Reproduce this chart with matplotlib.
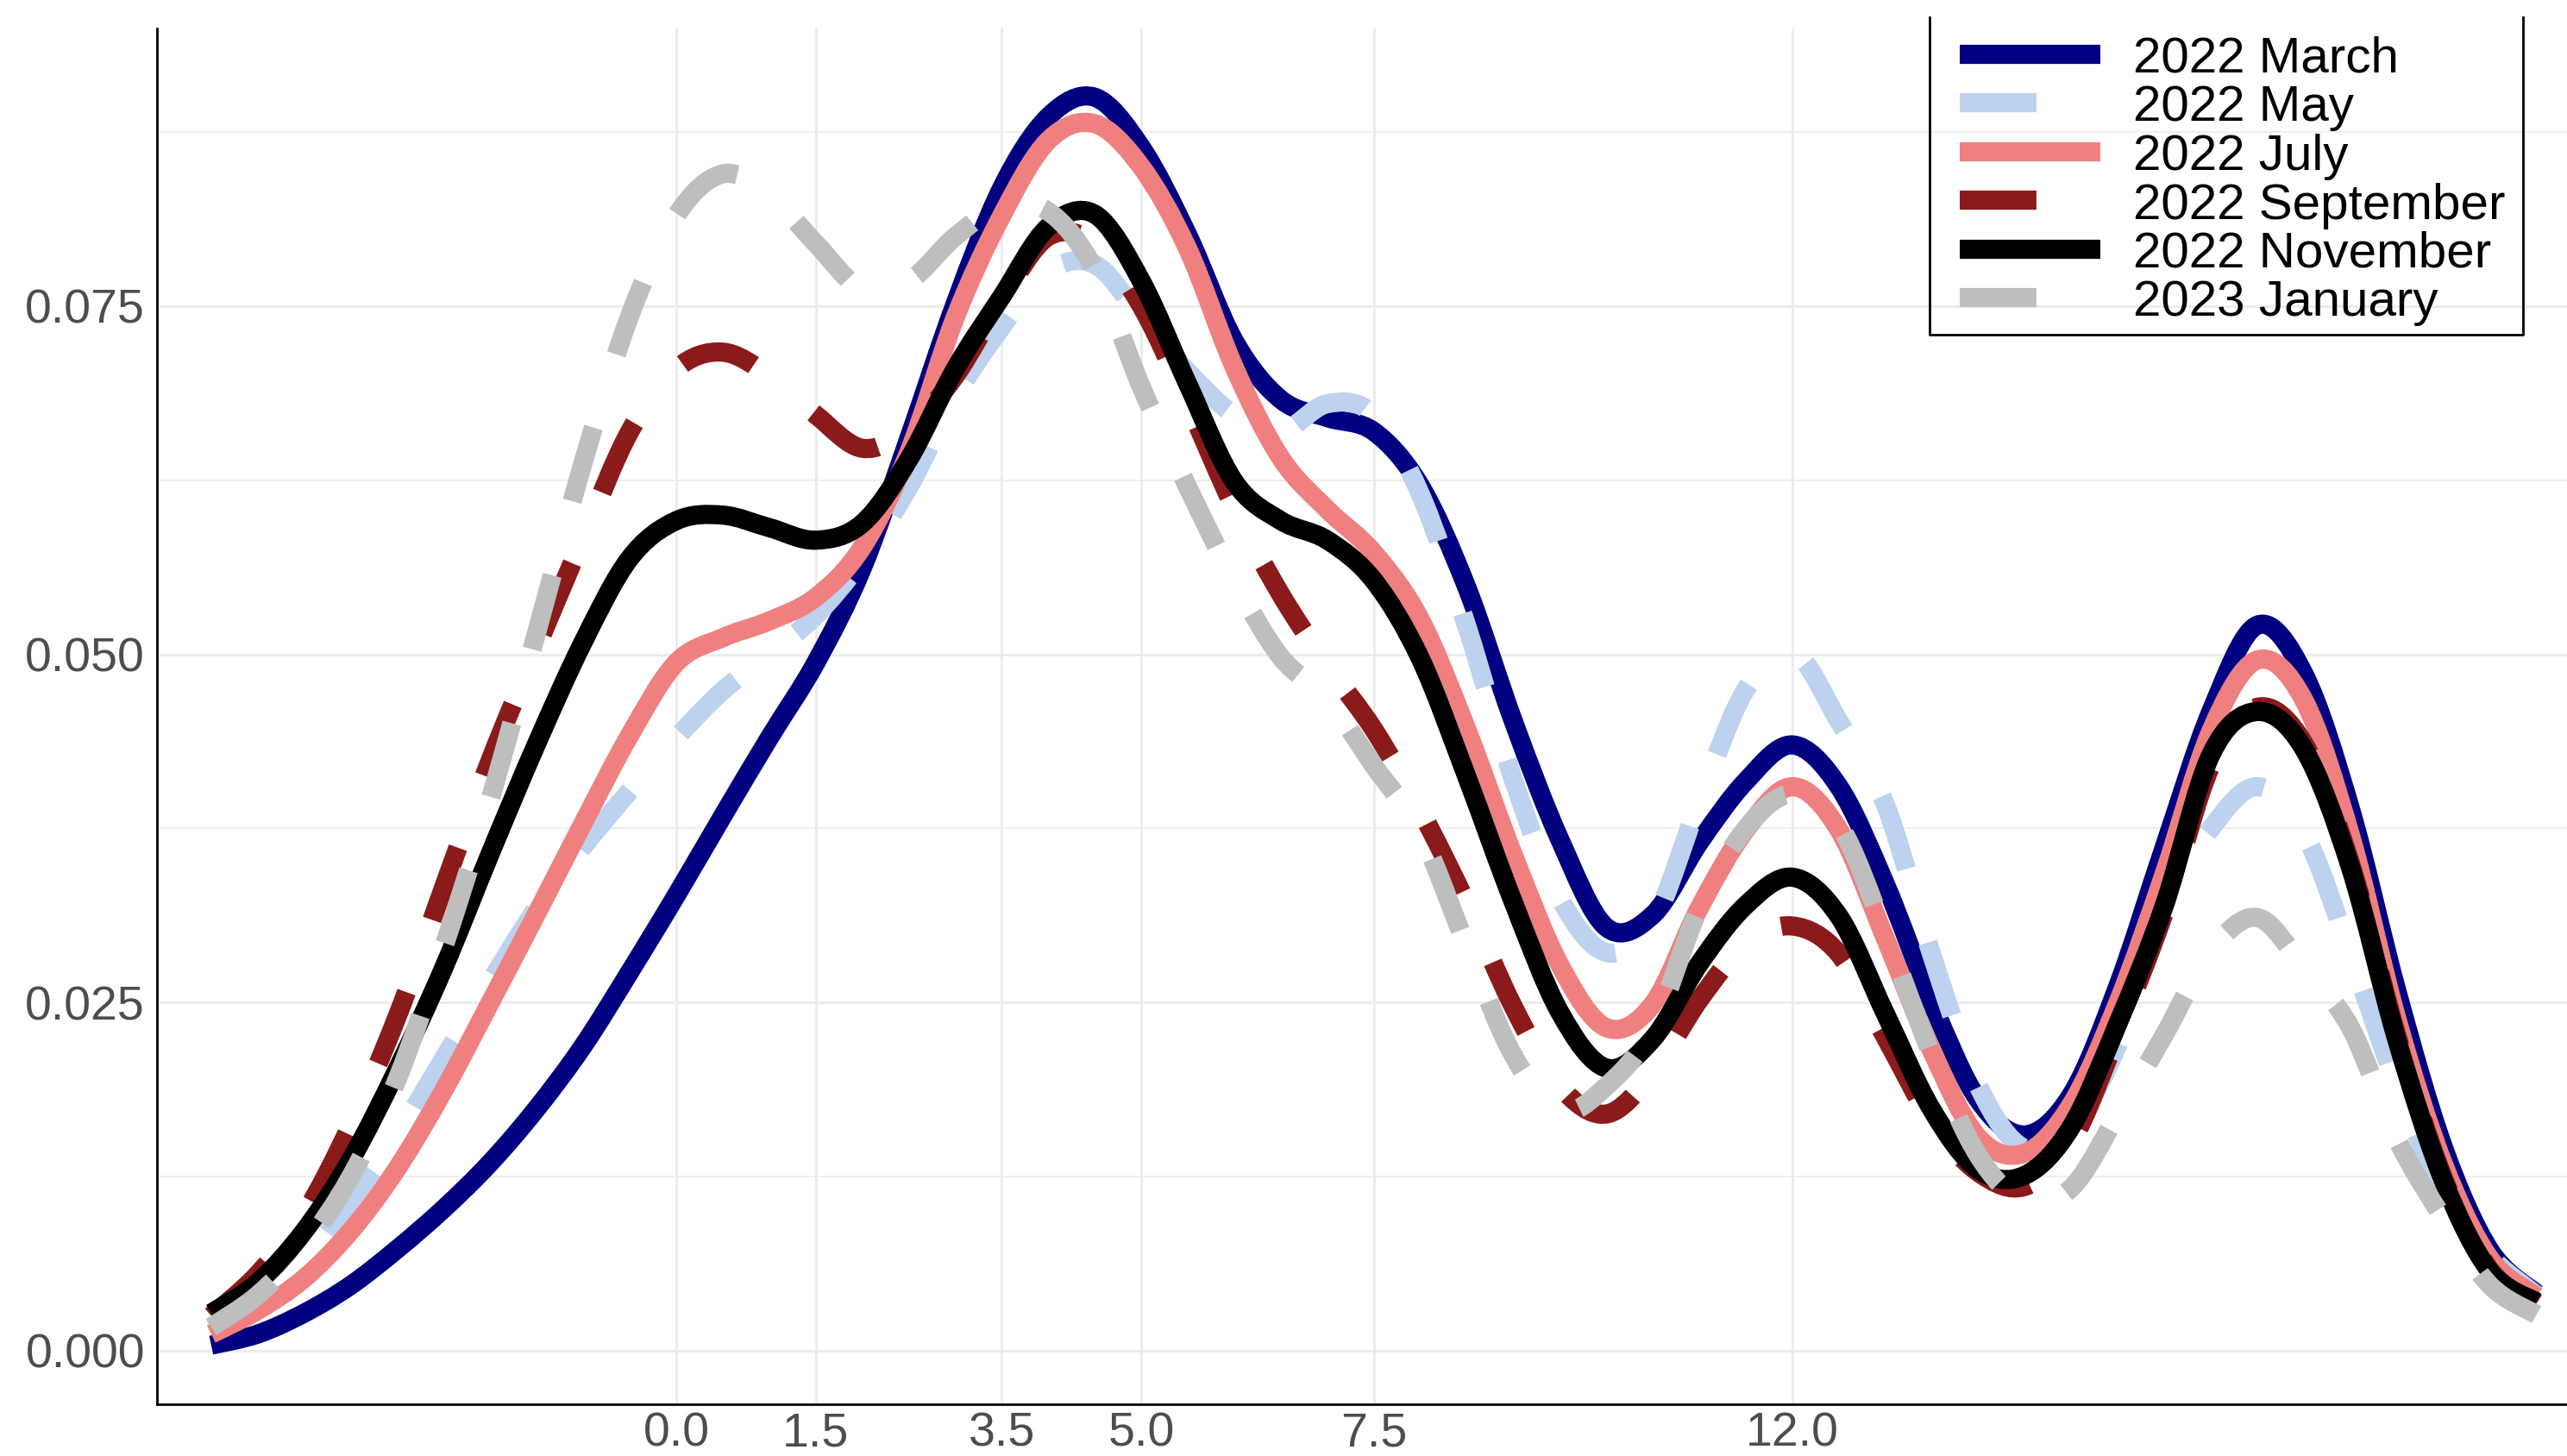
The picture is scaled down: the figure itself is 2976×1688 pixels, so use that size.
import numpy as np
import matplotlib
matplotlib.use("Agg")
import matplotlib.pyplot as plt
from matplotlib.lines import Line2D
from matplotlib.path import Path
from matplotlib.patches import PathPatch

plt.rcParams['font.family'] = ['Liberation Sans', 'DejaVu Sans']

x_vals = np.arange(-5, 20.5, 0.5)

march = [0.0004, 0.0012, 0.0027, 0.0047, 0.0073, 0.0102, 0.0135, 0.0174, 0.0219, 0.0272,
         0.0327, 0.0384, 0.0440, 0.0494, 0.0562, 0.0655, 0.0752, 0.0835, 0.0886, 0.0900,
         0.0864, 0.0801, 0.0725, 0.0683, 0.0670, 0.0660, 0.0621, 0.0548, 0.0452, 0.0367,
         0.0304, 0.0313, 0.0365, 0.0409, 0.0435, 0.0405, 0.0335, 0.0250, 0.0180, 0.0155,
         0.0184, 0.0262, 0.0362, 0.0459, 0.0521, 0.0486, 0.0389, 0.0258, 0.0146, 0.0072,
         0.0041]
may = [0.0015, 0.0033, 0.0065, 0.0108, 0.0155, 0.0210, 0.0265, 0.0318, 0.0362, 0.0402,
       0.0440, 0.0474, 0.0500, 0.0528, 0.0568, 0.0620, 0.0685, 0.0735, 0.0775, 0.0780,
       0.0742, 0.0703, 0.0672, 0.0660, 0.0680, 0.0672, 0.0615, 0.0520, 0.0410, 0.0325,
       0.0286, 0.0308, 0.0395, 0.0475, 0.0502, 0.0452, 0.0392, 0.0284, 0.0190, 0.0145,
       0.0160, 0.0220, 0.0320, 0.0375, 0.0405, 0.0372, 0.0285, 0.0190, 0.0115, 0.0068,
       0.0040]
july = [0.0012, 0.0029, 0.0052, 0.0086, 0.0131, 0.0187, 0.0250, 0.0314, 0.0379, 0.0442,
        0.0494, 0.0512, 0.0524, 0.0541, 0.0577, 0.0645, 0.0742, 0.0815, 0.0869, 0.0881,
        0.0850, 0.0791, 0.0706, 0.0641, 0.0604, 0.0573, 0.0525, 0.0446, 0.0356, 0.0277,
        0.0232, 0.0249, 0.0318, 0.0374, 0.0405, 0.0374, 0.0296, 0.0215, 0.0153, 0.0142,
        0.0177, 0.0250, 0.0343, 0.0445, 0.0496, 0.0467, 0.0370, 0.0238, 0.0134, 0.0066,
        0.0039]
september = [0.0025, 0.0055, 0.0098, 0.0162, 0.0240, 0.0333, 0.0424, 0.0505, 0.0584, 0.0660,
             0.0705, 0.0717, 0.0700, 0.0672, 0.0648, 0.0662, 0.0700, 0.0755, 0.0800, 0.0795,
             0.0750, 0.0680, 0.0605, 0.0543, 0.0492, 0.0446, 0.0388, 0.0321, 0.0247, 0.0190,
             0.0170, 0.0200, 0.0252, 0.0292, 0.0305, 0.0285, 0.0225, 0.0165, 0.0128, 0.0118,
             0.0150, 0.0228, 0.0315, 0.0420, 0.0462, 0.0436, 0.0350, 0.0226, 0.0124, 0.0058,
             0.0034]
november = [0.0027, 0.0049, 0.0086, 0.0137, 0.0202, 0.0275, 0.0357, 0.0436, 0.0509, 0.0569,
            0.0596, 0.0600, 0.0591, 0.0582, 0.0594, 0.0640, 0.0705, 0.0757, 0.0807, 0.0816,
            0.0768, 0.0694, 0.0624, 0.0596, 0.0582, 0.0553, 0.0497, 0.0412, 0.0322, 0.0243,
            0.0203, 0.0224, 0.0278, 0.0320, 0.0340, 0.0312, 0.0242, 0.0173, 0.0130, 0.0126,
            0.0161, 0.0235, 0.0320, 0.0428, 0.0459, 0.0432, 0.0347, 0.0223, 0.0122, 0.0057,
            0.0035]
january = [0.0017, 0.0040, 0.0075, 0.0125, 0.0195, 0.0290, 0.0396, 0.0516, 0.0638, 0.0743,
           0.0815, 0.0845, 0.0830, 0.0795, 0.0762, 0.0768, 0.0800, 0.0822, 0.0818, 0.0776,
           0.0692, 0.0620, 0.0553, 0.0498, 0.0468, 0.0420, 0.0372, 0.0290, 0.0212, 0.0172,
           0.0190, 0.0232, 0.0318, 0.0375, 0.0400, 0.0378, 0.0300, 0.0212, 0.0140, 0.0107,
           0.0117, 0.0170, 0.0227, 0.0287, 0.0311, 0.0275, 0.0232, 0.0152, 0.0095, 0.0047,
           0.0026]

labels = ['2022 March', '2022 May', '2022 July', '2022 September', '2022 November', '2023 January']
colors = ['#000080', '#BCD2EE', '#F08080', '#8B1A1A', '#000000', '#BEBEBE']
dashed = [False, True, False, True, False, True]
series = [march, may, july, september, november, january]

x_ticks = [0.0, 1.5, 3.5, 5.0, 7.5, 12.0]
x_ticklabels = ['0.0', '1.5', '3.5', '5.0', '7.5', '12.0']
y_ticks = [0.0, 0.025, 0.05, 0.075]
y_ticklabels = ['0.000', '0.025', '0.050', '0.075']
y_minor = [0.0125, 0.0375, 0.0625, 0.0875]


def smooth_path(xs, ys):
    # cubic bezier segments through the read points (catmull-rom tangents)
    pts = np.column_stack([xs, ys])
    ext = np.vstack([pts[0], pts, pts[-1]])
    verts = [pts[0]]
    codes = [Path.MOVETO]
    for i in range(len(pts) - 1):
        p0, p1, p2, p3 = ext[i], ext[i + 1], ext[i + 2], ext[i + 3]
        verts += [p1 + (p2 - p0) / 6, p2 - (p3 - p1) / 6, p2]
        codes += [Path.CURVE4] * 3
    return Path(verts, codes)


W, H = 2976, 1688
fig = plt.figure(figsize=(W / 200, H / 200), dpi=200)
ax = fig.add_axes([182 / W, 1 - 1628 / H, 1 - 182 / W, (1628 - 33) / H])

lw = 8
for ys, c, d, lab in zip(series, colors, dashed, labels):
    ls = (0, (4, 4)) if d else '-'
    ax.add_patch(PathPatch(smooth_path(x_vals, ys), fill=False, edgecolor=c, lw=lw,
                           linestyle=ls, capstyle='butt', joinstyle='round', label=lab))

ax.set_xlim(-5.583, 20.328)
ax.set_ylim(-0.00384, 0.09494)
ax.set_xticks(x_ticks)
ax.set_xticklabels(x_ticklabels)
ax.set_yticks(y_ticks)
ax.set_yticklabels(y_ticklabels)
ax.set_yticks(y_minor, minor=True)
ax.tick_params(axis='both', which='both', length=0, labelsize=20, labelcolor='#4D4D4D')
ax.tick_params(axis='x', pad=3)
ax.tick_params(axis='y', pad=5)
ax.grid(True, which='major', color='#EBEBEB', lw=1.0, zorder=0)
ax.grid(True, which='minor', axis='y', color='#EBEBEB', lw=0.6, zorder=0)
ax.set_axisbelow(True)
for s in ['top', 'right']:
    ax.spines[s].set_visible(False)
for s in ['left', 'bottom']:
    ax.spines[s].set_linewidth(1.0)
    ax.spines[s].set_color('black')

# legend drawn by hand (tight rows, box open at the top like the original)
lx0, lx1, ly0, ly1 = 2237, 2925, 20, 388
fig.add_artist(Line2D([lx0 / W, lx0 / W, lx1 / W, lx1 / W],
                      [1 - ly0 / H, 1 - ly1 / H, 1 - ly1 / H, 1 - ly0 / H],
                      transform=fig.transFigure, color='black', lw=1.0))
row0, pitch = 62.5, 56.5
for i, (c, d, lab) in enumerate(zip(colors, dashed, labels)):
    yc = row0 + i * pitch
    ls = (0, (4, 4)) if d else '-'
    fig.add_artist(Line2D([2272 / W, 2435 / W], [1 - yc / H, 1 - yc / H],
                          transform=fig.transFigure, color=c, lw=lw, linestyle=ls,
                          solid_capstyle='butt'))
    fig.text(2473 / W, 1 - (yc + 21.5) / H, lab, fontsize=21, color='black',
             va='baseline', ha='left')

fig.savefig('out.png', dpi=200, facecolor='white')
